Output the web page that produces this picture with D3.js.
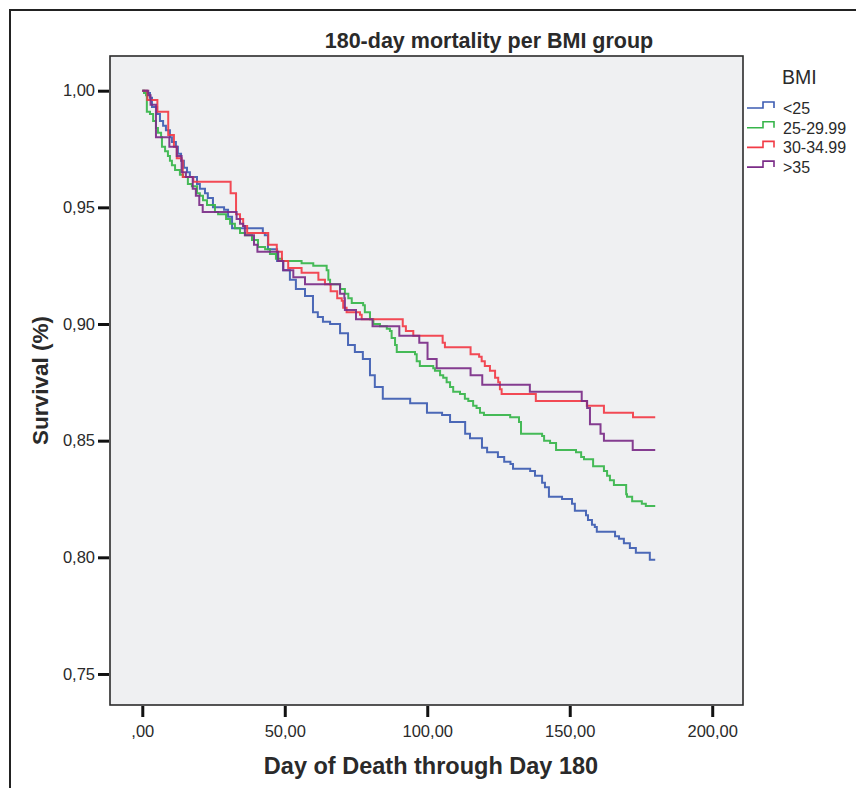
<!DOCTYPE html>
<html>
<head>
<meta charset="utf-8">
<script src="https://cdnjs.cloudflare.com/ajax/libs/d3/7.8.5/d3.min.js"></script>
<style>
	body { margin: 0; background: #fff; }
	svg text { font-family: "Liberation Sans", Arial, sans-serif; fill: #2a2a2a; }
</style>
</head>
<body>
<div id="chart"></div>
<script>
'use strict';

// Kaplan-Meier steps: [day, survival]
var bmiUnder25 = [
	[0, 1], [1.6, .999], [2.7, .997], [3.4, .993], [5.2, .990], [6.2, .987], [7.3, .985],
	[8.3, .983], [9.7, .980], [10.4, .978], [11.8, .976], [12.5, .973], [13.6, .970],
	[14.6, .967], [15.7, .965], [16.7, .963], [19.2, .960], [20.2, .958], [22, .956],
	[23, .954], [24.8, .950], [28.7, .949], [30.1, .946], [31.5, .941], [42.3, .939],
	[43, .938], [44.1, .932], [47.3, .927], [49.4, .923], [51.8, .919], [53.9, .915],
	[57.1, .912], [59.9, .905], [61.6, .903], [63.4, .901], [65.9, .900], [69.4, .896],
	[72.2, .891], [74.6, .888], [77.4, .885], [79.9, .878], [81.6, .873], [84.4, .868],
	[94, .866], [99.9, .862], [105.2, .861], [108, .858], [113.3, .853], [115, .851],
	[119.2, .847], [121, .845], [124.8, .843], [127, .841], [129.2, .840], [130.1, .838],
	[136.1, .837], [137.8, .835], [140.3, .832], [141.3, .830], [142.7, .826], [147.3, .825],
	[150.8, .823], [151.8, .820], [155.7, .818], [156.4, .816], [157.8, .814], [158.8, .813],
	[159.5, .811], [165.9, .809], [167.3, .808], [169, .806], [171.1, .804], [173.2, .802],
	[178.1, .799]
];

var bmi25to29 = [
	[0, 1], [0.6, .999], [1.3, .998], [1.6, .991], [2.7, .990], [3.8, .987], [4.8, .984],
	[5.5, .982], [6.6, .980], [6.9, .976], [8, .974], [9, .972], [9.7, .970], [10.4, .968],
	[11.5, .966], [13.2, .964], [14.3, .963], [16, .960], [17.4, .959], [19.2, .956],
	[20.2, .955], [21.3, .953], [22.7, .951], [25.5, .948], [26.6, .947], [29.4, .945],
	[30.8, .943], [32.5, .941], [34.3, .939], [36.1, .938], [38.5, .936], [40.6, .933],
	[43.1, .932], [44.8, .930], [46.9, .928], [49, .927], [55.9, .926], [60, .925],
	[64.7, .923], [65.3, .919], [65.9, .917], [69.4, .915], [71.1, .913], [72.3, .911],
	[73.5, .909], [77.5, .908], [78.1, .905], [79.9, .902], [81.1, .900], [83.4, .899],
	[85.8, .898], [86.9, .897], [87.5, .894], [88.7, .891], [89.3, .888], [95.7, .887],
	[96.3, .884], [97.4, .882], [102.1, .881], [102.7, .880], [104.5, .878], [105.6, .877],
	[106.8, .875], [108, .873], [109.1, .871], [111.5, .870], [113.2, .868], [114.4, .867],
	[116.1, .865], [117.3, .864], [118.5, .862], [119.9, .861], [129.1, .860], [132.2, .858],
	[132.9, .853], [140.3, .852], [141, .850], [143.1, .849], [145.2, .846], [152.2, .845],
	[154, .843], [155, .842], [158.2, .839], [162, .837], [163.1, .835], [164.1, .833],
	[165.5, .831], [169.8, .827], [170.1, .826], [171.9, .824], [175.3, .823], [176.7, .822]
];

var bmi30to34 = [
	[0, 1], [1.8, .996], [5.3, .991], [9.1, .981], [11.1, .976], [12.1, .971], [13.8, .970],
	[14.2, .963], [17.9, .961], [31, .956], [32.9, .947], [34.3, .945], [35.4, .942],
	[36.8, .939], [44.2, .934], [47.2, .931], [49, .927], [51.2, .924], [55.9, .922],
	[61.8, .919], [64.1, .917], [66.1, .914], [68.4, .911], [70, .910], [70.5, .907],
	[71.7, .905], [76.4, .904], [77, .902], [91.4, .899], [92.5, .897], [95.1, .895],
	[105.4, .892], [106.2, .890], [115.2, .887], [118.2, .886], [119.1, .884], [120.2, .882],
	[122, .880], [123.8, .877], [124.9, .875], [125.5, .872], [126.1, .870], [138.1, .867],
	[156, .865], [162, .862], [172.2, .860]
];

var bmiOver35 = [
	[0, 1], [2.1, .998], [2.9, .994], [4.8, .980], [9.5, .976], [12.1, .972], [13.8, .965],
	[15.3, .963], [17.7, .958], [18.8, .955], [20, .951], [21.2, .948], [33.1, .945],
	[34.3, .943], [35.4, .942], [36, .938], [39.2, .934], [40.4, .931], [47.7, .927],
	[49.5, .923], [53, .920], [57.1, .917], [69.4, .913], [70.9, .911], [71.1, .906],
	[75, .902], [80.8, .899], [90.2, .895], [97.2, .892], [100.1, .885], [103.3, .881],
	[115.2, .878], [119.3, .874], [136, .871], [154.2, .867], [156.1, .864], [157.1, .857],
	[160.8, .853], [162, .850], [172.1, .846]
];

var groupNames = ['<25', '25-29.99', '30-34.99', '>35'];
var groupColors = ['#3d5cb2', '#36b54a', '#f23b46', '#7b2c88'];
var lastDay = 180;

var xTicks = [0, 50, 100, 150, 200];
var xTickLabels = [',00', '50,00', '100,00', '150,00', '200,00'];
var yTicks = [1, 0.95, 0.90, 0.85, 0.80, 0.75];
var yTickLabels = ['1,00', '0,95', '0,90', '0,85', '0,80', '0,75'];

function drawChart ()	{
	var width = 856, height = 788;
	var plot = { left: 110, top: 56, right: 743, bottom: 705 };

	var svg = d3.select('#chart').append('svg')
							.attr('width', width)
							.attr('height', height);

	// outer frame (cropped at right and bottom)
	svg.append('path')
		 .attr('d', 'M10,' + height + 'V10H' + width)
		 .attr('fill', 'none')
		 .attr('stroke', '#222')
		 .attr('stroke-width', 2);

	var x = d3.scaleLinear().domain([-11.33, 210.8]).range([plot.left, plot.right]);
	var y = d3.scaleLinear().domain([1.01487, 0.7367]).range([plot.top, plot.bottom]);

	svg.append('rect')
		 .attr('x', plot.left)
		 .attr('y', plot.top)
		 .attr('width', plot.right - plot.left)
		 .attr('height', plot.bottom - plot.top)
		 .attr('fill', '#eff0f2')
		 .attr('stroke', '#2b2b2b')
		 .attr('stroke-width', 1.6);

	var xAxis = d3.axisBottom(x)
								.tickValues(xTicks)
								.tickSize(11)
								.tickPadding(8)
								.tickFormat(function (d, i) { return xTickLabels[i]; });

	var gx = svg.append('g')
							.attr('transform', 'translate(0,' + (plot.bottom + 1) + ')')
							.call(xAxis);
	gx.select('.domain').remove();
	gx.selectAll('line').attr('stroke', '#111').attr('stroke-width', 3);
	gx.selectAll('text').attr('font-size', 16.5).attr('fill', '#333');

	var yAxis = d3.axisLeft(y)
								.tickValues(yTicks)
								.tickSize(11)
								.tickPadding(3)
								.tickFormat(function (d, i) { return yTickLabels[i]; });

	var gy = svg.append('g')
							.attr('transform', 'translate(' + (plot.left - 1) + ',0)')
							.call(yAxis);
	gy.select('.domain').remove();
	gy.selectAll('line').attr('stroke', '#111').attr('stroke-width', 3);
	gy.selectAll('text').attr('font-size', 16.5).attr('fill', '#333');

	var line = d3.line()
							 .curve(d3.curveStepAfter)
							 .x(function (d) { return x(d[0]); })
							 .y(function (d) { return y(d[1]); });

	var series = [bmiUnder25, bmi25to29, bmi30to34, bmiOver35];

	series.forEach(function (s, i)	{
		var pts = s.concat([[lastDay, s[s.length - 1][1]]]);

		svg.append('path')
			 .datum(pts)
			 .attr('d', line)
			 .attr('fill', 'none')
			 .attr('stroke', groupColors[i])
			 .attr('stroke-width', 2)
			 .attr('stroke-opacity', 0.92);
	});

	// titles
	svg.append('text')
		 .attr('x', 489)
		 .attr('y', 48)
		 .attr('text-anchor', 'middle')
		 .attr('font-size', 21.5)
		 .attr('font-weight', 'bold')
		 .text('180-day mortality per BMI group');

	svg.append('text')
		 .attr('x', 431)
		 .attr('y', 774)
		 .attr('text-anchor', 'middle')
		 .attr('font-size', 23.5)
		 .attr('font-weight', 'bold')
		 .text('Day of Death through Day 180');

	svg.append('text')
		 .attr('transform', 'translate(48,' + ((plot.top + plot.bottom) / 2) + ') rotate(-90)')
		 .attr('text-anchor', 'middle')
		 .attr('font-size', 22.5)
		 .attr('font-weight', 'bold')
		 .text('Survival (%)');

	// legend
	var legend = svg.append('g');

	legend.append('text')
				.attr('x', 782)
				.attr('y', 84)
				.attr('font-size', 19.5)
				.text('BMI');

	groupNames.forEach(function (name, i)	{
		var cy = 108 + i * 19.7;

		legend.append('path')
					.attr('d', 'M747,' + cy + 'H763V' + (cy - 6) + 'H774V' + cy)
					.attr('fill', 'none')
					.attr('stroke', groupColors[i])
					.attr('stroke-width', 1.6);

		legend.append('text')
					.attr('x', 783)
					.attr('y', cy + 5.8)
					.attr('font-size', 16)
					.text(name);
	});
};

drawChart();
</script>
</body>
</html>
